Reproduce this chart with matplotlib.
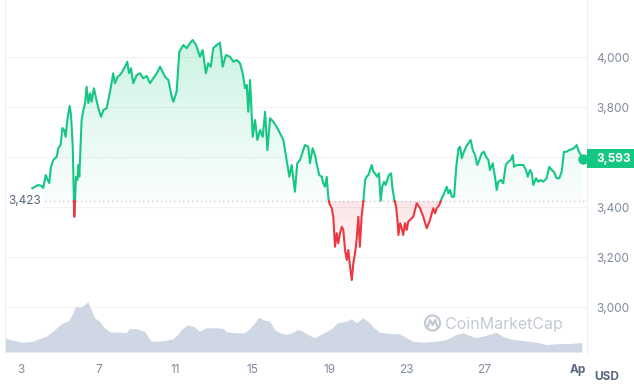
import numpy as np
import matplotlib
matplotlib.use("Agg")
import matplotlib.pyplot as plt
import matplotlib.transforms as mtransforms
from matplotlib.patches import Rectangle, Circle
from matplotlib.lines import Line2D
from matplotlib.path import Path
from matplotlib.colors import to_rgb

plt.rcParams['font.family'] = ['Inter', 'DejaVu Sans']

# price series, x in days of March (32 = Apr 1)
price_day = [3.57, 3.71, 3.88, 4.06, 4.14, 4.27, 4.37, 4.45, 4.54, 4.66,
             4.75, 4.84, 4.92, 5.04, 5.13, 5.22, 5.30, 5.41, 5.51, 5.58,
             5.67, 5.73, 5.75, 5.79, 5.84, 5.91, 5.96, 6.01, 6.13, 6.22,
             6.31, 6.39, 6.48, 6.57, 6.65, 6.77, 6.88, 7.00, 7.14, 7.26,
             7.43, 7.55, 7.65, 7.77, 7.86, 8.00, 8.12, 8.24, 8.38, 8.50,
             8.59, 8.69, 8.81, 8.99, 9.16, 9.33, 9.51, 9.68, 9.85, 10.03,
             10.20, 10.37, 10.46, 10.63, 10.81, 10.89, 11.06, 11.20, 11.41, 11.58,
             11.75, 11.89, 12.07, 12.27, 12.41, 12.58, 12.70, 12.83, 12.96, 13.14,
             13.31, 13.45, 13.62, 13.83, 14.00, 14.18, 14.35, 14.49, 14.61, 14.70,
             14.78, 14.87, 15.01, 15.13, 15.25, 15.39, 15.53, 15.65, 15.77, 15.91,
             16.08, 16.25, 16.42, 16.60, 16.77, 16.91, 17.03, 17.20, 17.32, 17.46,
             17.55, 17.72, 17.89, 17.98, 18.12, 18.24, 18.36, 18.46, 18.59, 18.67,
             18.76, 18.85, 18.93, 18.98, 19.11, 19.19, 19.28, 19.37, 19.45, 19.54,
             19.63, 19.71, 19.80, 19.89, 19.97, 20.06, 20.15, 20.23, 20.32, 20.40,
             20.49, 20.57, 20.66, 20.75, 20.84, 20.92, 21.01, 21.10, 21.18, 21.27,
             21.35, 21.47, 21.56, 21.65, 21.73, 21.82, 21.91, 21.99, 22.08, 22.19,
             22.25, 22.36, 22.45, 22.52, 22.57, 22.66, 22.74, 22.82, 22.91, 23.00,
             23.08, 23.17, 23.34, 23.52, 23.69, 23.86, 24.04, 24.21, 24.30, 24.38,
             24.47, 24.56, 24.69, 24.82, 24.94, 25.08, 25.16, 25.25, 25.34, 25.46,
             25.57, 25.69, 25.77, 25.86, 25.94, 26.08, 26.20, 26.32, 26.43, 26.55,
             26.66, 26.77, 26.89, 27.01, 27.12, 27.24, 27.32, 27.46, 27.58, 27.67,
             27.75, 27.89, 28.01, 28.14, 28.27, 28.40, 28.50, 28.57, 28.71, 28.88,
             29.05, 29.19, 29.28, 29.40, 29.49, 29.57, 29.71, 29.83, 29.95, 30.09,
             30.26, 30.40, 30.52, 30.64, 30.78, 30.92, 31.04, 31.16, 31.30, 31.43,
             31.56, 31.68, 31.82, 31.90, 32.03, 32.13]
price = [3475, 3481, 3488, 3484, 3476, 3528, 3508, 3496, 3561, 3588,
         3595, 3601, 3636, 3648, 3716, 3708, 3681, 3761, 3804, 3768,
         3641, 3428, 3361, 3428, 3521, 3508, 3568, 3521, 3748, 3788,
         3815, 3881, 3816, 3855, 3821, 3875, 3835, 3795, 3761, 3788,
         3795, 3841, 3881, 3935, 3895, 3921, 3928, 3941, 3961, 3981,
         3935, 3955, 3895, 3928, 3935, 3915, 3924, 3895, 3915, 3935,
         3961, 3935, 3921, 3908, 3841, 3821, 3861, 4021, 4048, 4035,
         4055, 4068, 4048, 4001, 4028, 3935, 3975, 3961, 4035, 4048,
         4057, 3961, 4008, 4001, 3981, 3988, 3975, 3935, 3875, 3888,
         3781, 3908, 3681, 3748, 3668, 3708, 3681, 3781, 3628, 3755,
         3741, 3721, 3695, 3668, 3588, 3521, 3568, 3461, 3575, 3588,
         3608, 3648, 3641, 3575, 3635, 3608, 3561, 3528, 3521, 3495,
         3481, 3521, 3441, 3415, 3395, 3361, 3241, 3295, 3255, 3295,
         3321, 3308, 3228, 3188, 3228, 3161, 3108, 3175, 3215, 3268,
         3361, 3241, 3361, 3421, 3508, 3521, 3528, 3548, 3568, 3541,
         3535, 3521, 3535, 3425, 3481, 3501, 3488, 3508, 3528, 3535,
         3481, 3428, 3401, 3348, 3288, 3335, 3315, 3288, 3335, 3308,
         3341, 3348, 3361, 3415, 3395, 3361, 3315, 3348, 3375, 3395,
         3375, 3395, 3408, 3435, 3455, 3481, 3455, 3468, 3441, 3441,
         3561, 3635, 3641, 3595, 3615, 3641, 3655, 3668, 3628, 3608,
         3568, 3588, 3615, 3621, 3601, 3588, 3548, 3575, 3521, 3468,
         3501, 3508, 3495, 3568, 3581, 3588, 3608, 3561, 3568, 3568,
         3568, 3548, 3521, 3548, 3535, 3488, 3515, 3501, 3508, 3501,
         3515, 3561, 3548, 3541, 3515, 3515, 3541, 3621, 3621, 3628,
         3631, 3635, 3648, 3628, 3608, 3593]

# trading volume (billions USD, relative scale)
vol_day = [2.15, 2.58, 3.10, 3.62, 3.97, 4.32, 4.66, 4.92, 5.18, 5.44,
           5.62, 5.84, 6.13, 6.31, 6.48, 6.65, 6.82, 7.08, 7.34, 7.60,
           8.12, 8.47, 8.64, 8.99, 9.42, 9.59, 9.77, 10.03, 10.55, 10.89,
           11.15, 11.32, 11.67, 12.01, 12.27, 12.62, 13.14, 13.52, 13.66, 14.18,
           14.61, 14.87, 15.13, 15.35, 15.65, 15.91, 16.17, 16.43, 16.77, 17.12,
           17.37, 17.63, 17.89, 18.24, 18.67, 19.11, 19.45, 19.89, 20.15, 20.41,
           20.75, 21.01, 21.27, 21.61, 22.13, 22.65, 23.00, 23.34, 23.86, 24.56,
           25.08, 25.59, 25.94, 26.29, 26.63, 27.15, 27.67, 28.01, 28.36, 28.87,
           29.39, 29.74, 30.26, 30.78, 31.47, 31.99, 32.11]
volume = [5.7, 4.7, 3.9, 4.3, 5.4, 6.3, 8.3, 10.1, 11.7, 12.3,
          14.3, 18.1, 18.1, 19.0, 20.1, 17.0, 13.7, 12.3, 9.7, 8.1,
          7.9, 7.7, 9.4, 9.3, 8.3, 6.3, 4.3, 4.3, 4.7, 5.3,
          7.0, 9.0, 10.9, 10.1, 8.3, 9.7, 9.7, 9.4, 8.1, 7.7,
          7.7, 9.3, 11.7, 13.9, 12.7, 12.3, 9.0, 7.7, 7.0, 7.9,
          9.0, 8.3, 7.0, 5.7, 7.4, 9.3, 11.7, 12.3, 13.3, 11.7,
          13.7, 12.3, 10.1, 7.9, 7.4, 7.3, 5.7, 4.3, 3.9, 4.3,
          5.0, 7.0, 7.7, 6.6, 5.7, 6.7, 7.9, 6.3, 5.3, 4.7,
          4.3, 3.9, 3.0, 3.3, 3.4, 3.7, 3.7]

open_price = 3423
tick_days = [3, 7, 11, 15, 19, 23, 27, 32]
tick_labels = ['3', '7', '11', '15', '19', '23', '27', 'Apr']
y_ticks = [3000, 3200, 3400, 3600, 3800, 4000]

GREEN = '#16c784'
RED = '#ea3943'
GREY = '#808a9d'
DARK = '#58667e'


def split_at(x, y, base):
    # insert the points where the line crosses the base level
    xs, ys = [x[0]], [y[0]]
    for i in range(1, len(x)):
        y0, y1 = y[i - 1], y[i]
        if (y0 - base) * (y1 - base) < 0:
            t = (base - y0) / (y1 - y0)
            xs.append(x[i - 1] + t * (x[i] - x[i - 1]))
            ys.append(base)
        xs.append(x[i])
        ys.append(y1)
    return np.array(xs), np.array(ys, dtype=float)


def gradient_fill(ax, x, y_edge, base, color, y_lo, y_hi, a_lo, a_hi):
    poly = ax.fill_between(x, y_edge, base, facecolor='none', edgecolor='none')
    clip = Path.make_compound_path(*poly.get_paths())
    img = np.zeros((256, 1, 4))
    img[..., :3] = to_rgb(color)
    img[:, 0, 3] = np.linspace(a_lo, a_hi, 256)
    im = ax.imshow(img, extent=[x[0], x[-1], y_lo, y_hi], origin='lower',
                   aspect='auto', interpolation='bilinear', zorder=1.5)
    im.set_clip_path(clip, transform=ax.transData)


W, H = 634, 388
fig = plt.figure(figsize=(W / 100, H / 100), dpi=100)
ax = fig.add_axes([5 / W, 1 - 352.5 / H, 581.5 / W, 352.5 / H])

# volume on its own scale at the bottom of the same axes
vol_top = 141
vol_tr = mtransforms.blended_transform_factory(
    ax.transData, mtransforms.Affine2D().scale(1, 1 / vol_top) + ax.transAxes)
ax.fill_between(vol_day, volume, 0, transform=vol_tr, facecolor='#cfd6e4',
                edgecolor='none', zorder=1)

xd, yd = split_at(price_day, price, open_price)
gradient_fill(ax, xd, np.maximum(yd, open_price), open_price, GREEN,
              open_price, yd.max(), 0.02, 0.22)
gradient_fill(ax, xd, np.minimum(yd, open_price), open_price, RED,
              yd.min(), open_price, 0.0, 0.13)

ax.axhline(open_price, color='#a6b0c3', lw=0.8, ls=(0, (1, 3)), zorder=2)

up = np.ma.masked_where(yd < open_price, yd)
dn = np.ma.masked_where(yd > open_price, yd)
ax.plot(xd, up, color=GREEN, lw=1.5, zorder=3, solid_joinstyle='round')
ax.plot(xd, dn, color=RED, lw=1.5, zorder=3, solid_joinstyle='round')
ax.plot(price_day[-1], price[-1], 'o', ms=6.5, color=GREEN, zorder=4, clip_on=False)

ax.set_xlim(2.154, 32.33)
ax.set_ylim(2818, 4228)

ax.set_axisbelow(True)
ax.grid(axis='y', color='#f1f2f4', lw=0.8)
for s in ['top', 'bottom']:
    ax.spines[s].set_visible(False)
for s in ['left', 'right']:
    ax.spines[s].set_color('#eef0f3')
    ax.spines[s].set_linewidth(0.8)

ax.yaxis.tick_right()
ax.set_yticks(y_ticks)
ax.set_yticklabels([f'{v:,}' for v in y_ticks])
ax.tick_params(axis='y', length=0, pad=7, labelsize=8.5, labelcolor=GREY)
ax.set_xticks(tick_days)
ax.set_xticklabels(tick_labels)
ax.tick_params(axis='x', length=0, pad=8, labelsize=8.5, labelcolor=GREY)
month = ax.get_xticklabels()[-1]
month.set_fontweight('bold')
month.set_color(DARK)

# open price label on the left, last price badge on the right
ytr = ax.get_yaxis_transform()
ax.text(0.005, open_price, f'{open_price:,}', transform=ytr, ha='left', va='center',
        color=DARK, fontsize=8.5, zorder=4,
        bbox=dict(facecolor='white', edgecolor='none', pad=1.5))
ax.add_patch(Rectangle((1.0009, price[-1] - 38), 0.082, 76, transform=ytr,
                       facecolor=GREEN, edgecolor='none', clip_on=False, zorder=5))
ax.text(1.0163, price[-1], f'{price[-1]:,}', transform=ytr, ha='left', va='center',
        color='white', fontsize=8.5, fontweight='bold', zorder=6, clip_on=False)

# hide the tail of the "Apr" label behind the price column
fig.add_artist(Rectangle((585 / W, 0), 49 / W, 33 / H, transform=fig.transFigure,
                         facecolor='white', edgecolor='none', zorder=6))
fig.text(607 / W, 1 - 377 / H, 'USD', ha='center', va='center', fontsize=8.5,
         fontweight='bold', color=DARK, zorder=7)

# watermark
wm = '#c3c9d4'
fig.text(445 / W, 1 - 324 / H, 'CoinMarketCap', ha='left', va='center',
         fontsize=11.5, color=wm, zorder=3)
cx, cy = 4.325, (H - 323) / 100
fig.add_artist(Circle((cx, cy), 0.075, transform=fig.dpi_scale_trans, fill=False,
                      edgecolor=wm, lw=1.6, zorder=3))
fig.add_artist(Line2D([cx - 0.045, cx - 0.025, cx, cx + 0.025, cx + 0.045],
                      [cy - 0.03, cy + 0.03, cy - 0.02, cy + 0.03, cy - 0.03],
                      transform=fig.dpi_scale_trans, color=wm, lw=1.6, zorder=3))

fig.savefig('out.png', dpi=100)
